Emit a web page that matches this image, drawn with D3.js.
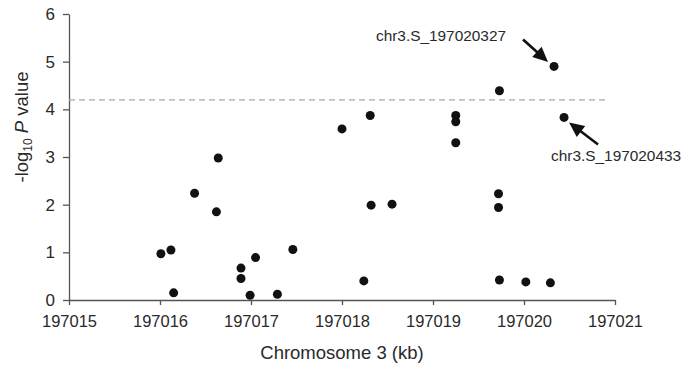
<!DOCTYPE html>
<html>
<head>
<meta charset="utf-8">
<script src="https://cdn.jsdelivr.net/npm/d3@7"></script>
<style>
  body { margin: 0; background: #fff; }
  text { font-family: "Liberation Sans", Arial, sans-serif; fill: #2a2a2a; }
</style>
</head>
<body>
<svg id="chart" width="683" height="367"></svg>
<script>
// positions in kb (Chromosome 3) and -log10 P
const positions = [197016.01, 197016.12, 197016.15, 197016.38, 197016.64, 197016.62,
                   197016.89, 197016.89, 197017.05, 197016.99, 197017.29, 197017.46,
                   197018.00, 197018.31, 197018.24, 197018.32, 197018.55,
                   197019.25, 197019.25, 197019.25, 197019.73, 197019.72, 197019.72,
                   197019.73, 197020.02, 197020.29, 197020.44, 197020.33];
const logP = [0.97, 1.05, 0.15, 2.24, 2.98, 1.85,
              0.67, 0.45, 0.89, 0.10, 0.12, 1.06,
              3.59, 3.87, 0.40, 1.99, 2.01,
              3.87, 3.74, 3.30, 4.39, 2.23, 1.94,
              0.42, 0.38, 0.36, 3.83, 4.90];
const threshold = 4.2;
const xTicks = [197015, 197016, 197017, 197018, 197019, 197020, 197021];
const yTicks = [0, 1, 2, 3, 4, 5, 6];
const labels = ['chr3.S_197020327', 'chr3.S_197020433'];
const labelPoints = [27, 26]; // index into positions/logP

const svg = d3.select('#chart');

const xScale = d3.scaleLinear()
    .domain([197015, 197021])
    .range([69, 615]);

const yScale = d3.scaleLinear()
    .domain([0, 6])
    .range([300, 14]);

const font = '"Liberation Sans", Arial, sans-serif';

// x axis
svg.append('g')
    .attr('transform', `translate(0,${yScale(0)})`)
    .call(d3.axisBottom(xScale).tickValues(xTicks).tickFormat(d3.format('d'))
        .tickSizeInner(5).tickSizeOuter(0).tickPadding(10))
    .call(g => g.select('.domain').attr('stroke', '#555').attr('stroke-width', 1.3))
    .call(g => g.selectAll('.tick line').attr('stroke', '#555').attr('stroke-width', 1.3))
    .call(g => g.selectAll('.tick text').attr('font-size', 16.5)
        .attr('font-family', font).attr('fill', '#2a2a2a'));

// y axis
svg.append('g')
    .attr('transform', `translate(${xScale(197015)},0)`)
    .call(d3.axisLeft(yScale).tickValues(yTicks).tickFormat(d3.format('d'))
        .tickSizeInner(6).tickSizeOuter(0).tickPadding(8))
    .call(g => g.select('.domain').attr('stroke', '#555').attr('stroke-width', 1.3))
    .call(g => g.selectAll('.tick line').attr('stroke', '#555').attr('stroke-width', 1.3))
    .call(g => g.selectAll('.tick text').attr('font-size', 17)
        .attr('font-family', font).attr('fill', '#2a2a2a'));

// threshold line
svg.append('line')
    .attr('x1', xScale(197015))
    .attr('x2', xScale(197020.9))
    .attr('y1', yScale(threshold))
    .attr('y2', yScale(threshold))
    .attr('stroke', '#aaa')
    .attr('stroke-width', 1.2)
    .attr('stroke-dasharray', '6,4');

// points
svg.append('g')
    .selectAll('circle')
    .data(positions)
    .enter()
    .append('circle')
    .attr('cx', d => xScale(d))
    .attr('cy', (d, i) => yScale(logP[i]))
    .attr('r', 4.5)
    .attr('fill', '#111');

// annotations: arrow start/tip and text offsets from the point
const annot = [
    {from: [-31, -27], to: [-6, -4.5], text: [-48, -25], anchor: 'end'},
    {from: [34, 27], to: [5, 5], text: [-13, 44], anchor: 'start'}
];

annot.forEach((a, k) => {
    const px = xScale(positions[labelPoints[k]]);
    const py = yScale(logP[labelPoints[k]]);
    const x1 = px + a.from[0], y1 = py + a.from[1];
    const x2 = px + a.to[0], y2 = py + a.to[1];
    const ang = Math.atan2(y2 - y1, x2 - x1);
    const hl = 15, hw = 7;
    const bx = x2 - hl * Math.cos(ang), by = y2 - hl * Math.sin(ang);
    svg.append('line')
        .attr('x1', x1).attr('y1', y1)
        .attr('x2', bx + 2 * Math.cos(ang)).attr('y2', by + 2 * Math.sin(ang))
        .attr('stroke', '#111').attr('stroke-width', 2.6);
    svg.append('polygon')
        .attr('points', [
            [x2, y2],
            [bx + hw * Math.sin(ang), by - hw * Math.cos(ang)],
            [bx - hw * Math.sin(ang), by + hw * Math.cos(ang)]
        ].map(p => p.join(',')).join(' '))
        .attr('fill', '#111');
    svg.append('text')
        .attr('x', px + a.text[0])
        .attr('y', py + a.text[1])
        .attr('text-anchor', a.anchor)
        .attr('font-size', 15.4)
        .attr('fill', '#1a1a1a')
        .text(labels[k]);
});

// axis titles
svg.append('text')
    .attr('x', (xScale(197015) + xScale(197021)) / 2)
    .attr('y', 359)
    .attr('text-anchor', 'middle')
    .attr('font-size', 18.5)
    .text('Chromosome 3 (kb)');

const yt = svg.append('text')
    .attr('transform', 'translate(28,127) rotate(-90)')
    .attr('text-anchor', 'middle')
    .attr('font-size', 18.5);
yt.append('tspan').text('-log');
yt.append('tspan').attr('font-size', 12).attr('dy', 4).text('10');
yt.append('tspan').attr('dy', -4).text(' ');
yt.append('tspan').attr('font-style', 'italic').text('P');
yt.append('tspan').text(' value');
</script>
</body>
</html>
